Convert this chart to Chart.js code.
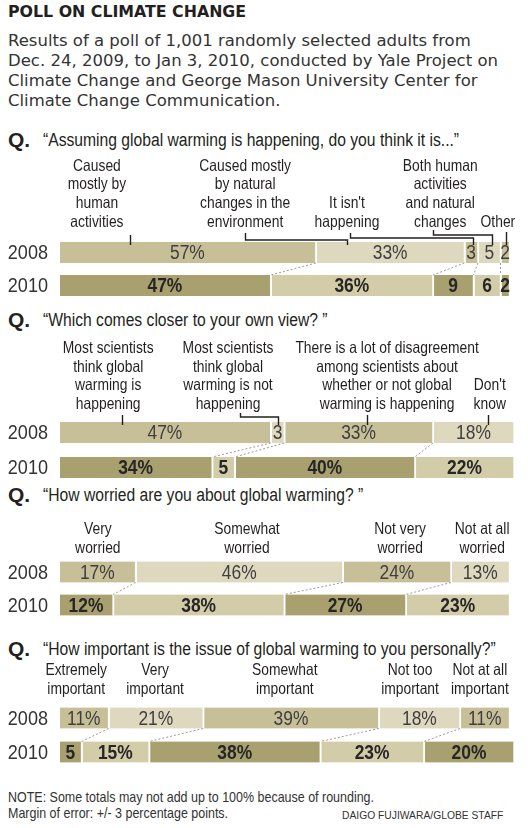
<!DOCTYPE html>
<html lang="en">
<head>
<meta charset="UTF-8" />
<title>Poll on climate change</title>
<script src="https://cdn.jsdelivr.net/npm/chart.js"></script>
<style>
  body { margin: 0; width: 528px; height: 828px; position: relative; background: #fff; color: #231f20; overflow: hidden; }
  .abs { position: absolute; white-space: nowrap; }
  .n { display: inline-block; transform: scaleX(0.87); transform-origin: 0 50%; }
  .title { left: 8px; top: 2px; font: bold 15.8px "DejaVu Sans", sans-serif; line-height: 20px; }
  .sub { left: 8px; top: 31px; font: 16.5px "DejaVu Sans", sans-serif; line-height: 20px; color: #333; }
  .q { left: 8px; font-family: "Liberation Sans", Arial, sans-serif; font-size: 18px; line-height: 24px; }
  .q b { font-size: 21px; margin-right: 13px; vertical-align: top; }
  .note { left: 8px; top: 790px; font: 14.5px "Liberation Sans", Arial, sans-serif; line-height: 15.5px; color: #333; }
  .note .n { transform: scaleX(0.86); }
  .credit { left: 342px; top: 810px; font: 10.3px "Liberation Sans", Arial, sans-serif; color: #333; }
  canvas { position: absolute; left: 0; }
</style>
</head>
<body>

<div class="abs title">POLL ON CLIMATE CHANGE</div>
<div class="abs sub">Results of a poll of 1,001 randomly selected adults from<br>Dec. 24, 2009, to Jan 3, 2010, conducted by Yale Project on<br>Climate Change and George Mason University Center for<br>Climate Change Communication.</div>

<div class="abs q" style="top:128px"><b>Q.</b><span class="n">“Assuming global warming is happening, do you think it is...”</span></div>
<div class="abs q" style="top:308px"><b>Q.</b><span class="n">“Which comes closer to your own view? ”</span></div>
<div class="abs q" style="top:483px"><b>Q.</b><span class="n">“How worried are you about global warming? ”</span></div>
<div class="abs q" style="top:637px"><b>Q.</b><span class="n">“How important is the issue of global warming to you personally?”</span></div>

<canvas id="q1" width="528" height="160"></canvas>
<canvas id="q2" width="528" height="160"></canvas>
<canvas id="q3" width="528" height="160"></canvas>
<canvas id="q4" width="528" height="160"></canvas>

<div class="abs note"><span class="n">NOTE: Some totals may not add up to 100% because of rounding.<br>Margin of error: +/- 3 percentage points.</span></div>
<div class="abs credit">DAIGO FUJIWARA/GLOBE STAFF</div>

<script>
const years = ['2008', '2010'];

// Q1: cause of global warming
const q1Categories = [
    ['Caused', 'mostly by', 'human', 'activities'],
    ['Caused mostly', 'by natural', 'changes in the', 'environment'],
    ['It isn\'t', 'happening'],
    ['Both human', 'activities', 'and natural', 'changes'],
    ['Other']
];
const q1Values2008 = [57, 33, 3, 5, 2];
const q1Values2010 = [47, 36, 9, 6, 2];

// Q2: scientists' view
const q2Categories = [
    ['Most scientists', 'think global', 'warming is', 'happening'],
    ['Most scientists', 'think global', 'warming is not', 'happening'],
    ['There is a lot of disagreement', 'among scientists about', 'whether or not global', 'warming is happening'],
    ['Don\'t', 'know']
];
const q2Values2008 = [47, 3, 33, 18];
const q2Values2010 = [34, 5, 40, 22];

// Q3: worried
const q3Categories = [
    ['Very', 'worried'],
    ['Somewhat', 'worried'],
    ['Not very', 'worried'],
    ['Not at all', 'worried']
];
const q3Values2008 = [17, 46, 24, 13];
const q3Values2010 = [12, 38, 27, 23];

// Q4: importance
const q4Categories = [
    ['Extremely', 'important'],
    ['Very', 'important'],
    ['Somewhat', 'important'],
    ['Not too', 'important'],
    ['Not at all', 'important']
];
const q4Values2008 = [11, 21, 39, 18, 11];
const q4Values2010 = [5, 15, 38, 23, 20];

const FONT = '"Liberation Sans", Arial, sans-serif';
const COLORS_A = ['#c6bf97', '#a9a06f'];   // 2008, 2010
const COLORS_B = ['#ddd8be', '#d3cca8'];

// label placement (in % units on the x scale) and leader lines
const panels = [
    { id: 'q1', cats: q1Categories, v08: q1Values2008, v10: q1Values2010,
      canvasTop: 150, areaTop: 236, band: 33, labelGap: 14,
      labelX: [8.2, 41.1, 63.7, 84.4, 97.2],
      leaders: [[15.5, 15.5, 7, 0], [41.1, 63.7, 9, 2], [64.4, 91.6, 9, 4], [82.8, 95.8, 12, 7], [99, 99, 10, 0]] },
    { id: 'q2', cats: q2Categories, v08: q2Values2008, v10: q2Values2010,
      canvasTop: 330, areaTop: 415, band: 35, labelGap: 10.5,
      labelX: [10.7, 37.3, 72.6, 95.4],
      leaders: [[13.8, 13.8, 7, 0], [40, 48.4, 9, 5], [68.1, 68.1, 7, 0], [95, 95, 7, 0]] },
    { id: 'q3', cats: q3Categories, v08: q3Values2008, v10: q3Values2010,
      canvasTop: 505, areaTop: 555.5, band: 33, labelGap: 7,
      labelX: [8.4, 41.5, 75.5, 93.7], leaders: [] },
    { id: 'q4', cats: q4Categories, v08: q4Values2008, v10: q4Values2010,
      canvasTop: 655, areaTop: 701, band: 34, labelGap: 11.5,
      labelX: [3.6, 21.1, 49.9, 77.7, 93.2], leaders: [] }
];

function narrowText(ctx, txt, x, y, font, sx) {
    ctx.save();
    ctx.font = font;
    ctx.translate(x, y);
    ctx.scale(sx, 1);
    ctx.fillText(txt, 0, 0);
    ctx.restore();
}

const decor = {
    id: 'decor',
    afterDatasetsDraw(chart, args, opts) {
        const p = opts.panel;
        const ctx = chart.ctx;
        const xs = chart.scales.x;
        const ys = chart.scales.y;
        const area = chart.chartArea;
        const metas = chart.data.datasets.map((d, i) => chart.getDatasetMeta(i));
        const b08 = metas[0].data[0], b10 = metas[0].data[1];
        const top08 = b08.y - b08.height / 2;
        const bot08 = b08.y + b08.height / 2;
        const top10 = b10.y - b10.height / 2;
        ctx.save();

        // dotted connectors between segment boundaries
        ctx.strokeStyle = '#9a9a9a';
        ctx.lineWidth = 1;
        ctx.setLineDash([2, 2]);
        let c08 = 0, c10 = 0;
        for (let i = 0; i < p.v08.length - 1; i++) {
            c08 += p.v08[i]; c10 += p.v10[i];
            ctx.beginPath();
            ctx.moveTo(xs.getPixelForValue(c08) - 1, bot08);
            ctx.lineTo(xs.getPixelForValue(c10) - 1, top10);
            ctx.stroke();
        }
        ctx.setLineDash([]);

        // year labels
        ctx.textAlign = 'right';
        ctx.textBaseline = 'middle';
        ctx.fillStyle = '#333';
        years.forEach((yr, j) => {
            narrowText(ctx, yr, 48, ys.getPixelForValue(j) + 1, '21px ' + FONT, 0.86);
        });

        // value labels
        ctx.textAlign = 'center';
        metas.forEach((meta, i) => {
            meta.data.forEach((bar, j) => {
                const v = chart.data.datasets[i].data[j];
                const txt = v < 10 ? String(v) : v + '%';
                ctx.fillStyle = j === 0 ? '#3f3f3f' : '#262626';
                narrowText(ctx, txt, (bar.x + bar.base) / 2 - 1, bar.y + 1,
                    (j === 0 ? '' : 'bold ') + '20px ' + FONT, 0.87);
            });
        });

        // category labels
        ctx.fillStyle = '#231f20';
        p.cats.forEach((lines, i) => {
            const x = xs.getPixelForValue(p.labelX[i]);
            lines.forEach((ln, k) => {
                const y = area.top - p.labelGap - (lines.length - 1 - k) * 18.6;
                narrowText(ctx, ln, x, y, '16.5px ' + FONT, 0.84);
            });
        });

        // leader lines
        ctx.strokeStyle = '#231f20';
        ctx.lineWidth = 1.4;
        p.leaders.forEach(([from, to, start, level]) => {
            const x0 = Math.round(xs.getPixelForValue(from)) + 0.5;
            const x1 = Math.round(xs.getPixelForValue(to)) + 0.5;
            ctx.beginPath();
            ctx.moveTo(x0, top08 - start);
            if (from !== to) {
                ctx.lineTo(x0, top08 - level);
                ctx.lineTo(x1, top08 - level);
            }
            ctx.lineTo(x1, top08 + 3);
            ctx.stroke();
        });
        ctx.restore();
    }
};

panels.forEach(p => {
    const canvas = document.getElementById(p.id);
    const padTop = p.areaTop - p.canvasTop;
    const height = Math.ceil(padTop + p.band * 2 + 2);
    canvas.style.top = p.canvasTop + 'px';
    canvas.width = 528;
    canvas.height = height;
    canvas.style.width = '528px';
    canvas.style.height = height + 'px';

    new Chart(canvas, {
        type: 'bar',
        data: {
            labels: years,
            datasets: p.cats.map((cat, i) => ({
                label: cat.join(' '),
                data: [p.v08[i], p.v10[i]],
                backgroundColor: i % 2 === 0 ? COLORS_A : COLORS_B,
                borderColor: '#ffffff',
                borderWidth: { left: 0, right: 2, top: 0, bottom: 0 },
                borderSkipped: false,
                barThickness: 21
            }))
        },
        options: {
            indexAxis: 'y',
            responsive: false,
            animation: false,
            devicePixelRatio: 1,
            layout: { padding: { top: padTop, bottom: height - padTop - p.band * 2, left: 0, right: 13 } },
            scales: {
                x: { stacked: true, min: 0, max: 101, display: false },
                y: {
                    stacked: true,
                    grid: { display: false, drawTicks: false },
                    border: { display: false },
                    ticks: { display: false },
                    afterFit(scale) { scale.width = 60; }
                }
            },
            plugins: {
                legend: { display: false },
                tooltip: { enabled: false },
                decor: { panel: p }
            }
        },
        plugins: [decor]
    });
});
</script>

</body>
</html>
